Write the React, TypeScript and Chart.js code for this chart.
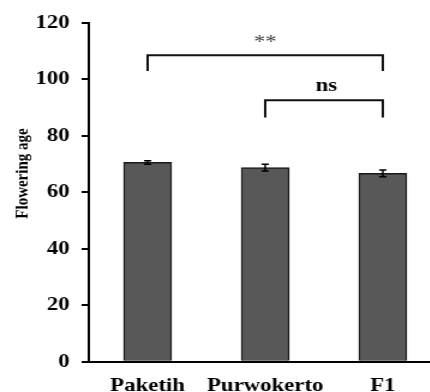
import React, { useEffect, useRef } from "react";
import { Chart, registerables } from "chart.js";

Chart.register(...registerables);

const categories = ["Paketih", "Purwokerto", "F1"];
const means = [70.6, 68.8, 66.7];
const errors = [0.6, 1.2, 1.2];
const yTickValues = [0, 20, 40, 60, 80, 100, 120];
const yTitle = "Flowering age";

const bracketFrom = [0, 1];
const bracketTo = [2, 2];
const bracketY = [108.6, 92.6];
const bracketLegY = [103, 86.5];
const bracketLabels = ["**", "ns"];

const FONT = "'Liberation Serif', 'Times New Roman', serif";

const annotPlugin = {
  id: "annot",
  afterDatasetsDraw(chart: any) {
    const ctx = chart.ctx;
    const x = chart.scales.x;
    const y = chart.scales.y;
    ctx.save();
    // error bars
    ctx.strokeStyle = "#000";
    ctx.lineWidth = 1.5;
    means.forEach((m, i) => {
      const cx = x.getPixelForValue(i);
      const t = y.getPixelForValue(m + errors[i]);
      const b = y.getPixelForValue(m - errors[i]);
      ctx.beginPath();
      ctx.moveTo(cx, t);
      ctx.lineTo(cx, b);
      ctx.moveTo(cx - 3, t);
      ctx.lineTo(cx + 3, t);
      ctx.moveTo(cx - 3, b);
      ctx.lineTo(cx + 3, b);
      ctx.stroke();
    });
    // brackets
    ctx.lineWidth = 2;
    ctx.strokeStyle = "#111";
    bracketFrom.forEach((f, i) => {
      const x1 = x.getPixelForValue(f);
      const x2 = x.getPixelForValue(bracketTo[i]);
      const yl = y.getPixelForValue(bracketY[i]);
      const yb = y.getPixelForValue(bracketLegY[i]);
      ctx.beginPath();
      ctx.moveTo(x1, yb);
      ctx.lineTo(x1, yl);
      ctx.lineTo(x2, yl);
      ctx.lineTo(x2, yb);
      ctx.stroke();
      const lbl = bracketLabels[i];
      ctx.textAlign = "center";
      if (lbl === "**") {
        ctx.font = `normal 19px ${FONT}`;
        ctx.fillStyle = "#444";
        ctx.textBaseline = "middle";
        ctx.fillText(lbl, (x1 + x2) / 2, yl - 12);
      } else {
        ctx.font = `bold 19px ${FONT}`;
        ctx.fillStyle = "#000";
        ctx.textBaseline = "alphabetic";
        ctx.fillText(lbl, (x1 + x2) / 2 + 2, yl - 9);
      }
    });
    ctx.restore();
  },
  afterDraw(chart: any) {
    const ctx = chart.ctx;
    ctx.save();
    ctx.translate(19.6, 173.5);
    ctx.rotate(-Math.PI / 2);
    ctx.font = `bold 15px ${FONT}`;
    ctx.fillStyle = "#000";
    ctx.textAlign = "center";
    ctx.textBaseline = "middle";
    ctx.fillText(yTitle, 0, 0);
    ctx.restore();
  },
};

export default function App() {
  const ref = useRef<HTMLCanvasElement>(null);
  useEffect(() => {
    const chart = new Chart(ref.current as HTMLCanvasElement, {
      type: "bar",
      data: {
        labels: categories,
        datasets: [
          {
            data: means,
            backgroundColor: "#585858",
            borderColor: "#1a1a1a",
            borderWidth: 1.5,
            barThickness: 40,
          },
        ],
      },
      options: {
        responsive: false,
        animation: false,
        devicePixelRatio: 1,
        layout: { padding: { top: 23, left: 0, right: 0, bottom: 0 } },
        plugins: {
          legend: { display: false },
          tooltip: { enabled: false },
        },
        scales: {
          x: {
            grid: { display: false },
            border: { display: true, color: "#000", width: 2 },
            ticks: {
              color: "#000",
              padding: 5,
              autoSkip: false,
              maxRotation: 0,
              minRotation: 0,
              font: { family: FONT, size: 19, weight: "bold" },
            },
            afterFit: (s: any) => {
              s.height = 30.3;
            },
          },
          y: {
            min: 0,
            max: 120,
            afterBuildTicks: (s: any) => {
              s.ticks = yTickValues.map((v) => ({ value: v }));
            },
            grid: {
              display: true,
              drawOnChartArea: false,
              drawTicks: true,
              tickLength: 6,
              color: "#000",
              lineWidth: 2,
            },
            border: { display: true, color: "#000", width: 2 },
            ticks: {
              color: "#000",
              padding: 10,
              font: { family: FONT, size: 19, weight: "bold" },
            },
            afterFit: (s: any) => {
              s.width = 74;
            },
          },
        },
      },
      plugins: [annotPlugin],
    });
    return () => chart.destroy();
  }, []);
  return (
    <div
      style={{
        position: "fixed",
        left: 0,
        top: 0,
        width: 430,
        height: 392,
        overflow: "hidden",
        background: "#fff",
      }}
    >
      <div
        style={{
          position: "absolute",
          left: 0,
          top: 0,
          width: 368,
          height: 392,
          transform: "scaleX(1.2)",
          transformOrigin: "0 0",
        }}
      >
        <canvas ref={ref} width={368} height={392} style={{ width: 368, height: 392, display: "block" }} />
      </div>
    </div>
  );
}
